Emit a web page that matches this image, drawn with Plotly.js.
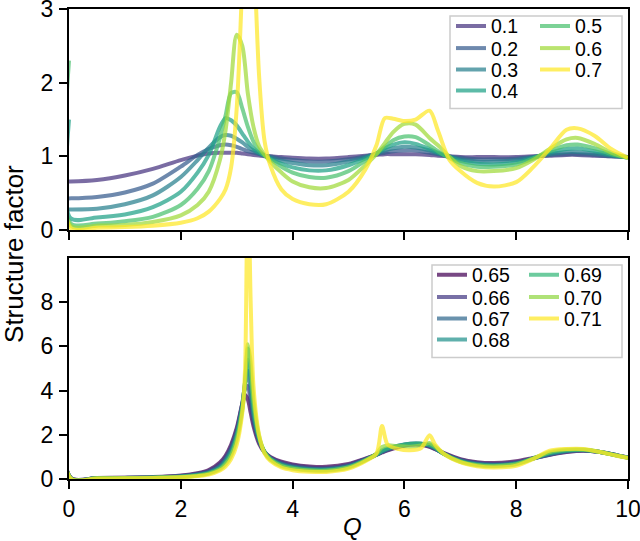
<!DOCTYPE html>
<html><head><meta charset="utf-8">
<script src="https://cdn.plot.ly/plotly-3.0.1.min.js"></script>
<style>body{margin:0;background:#fff}</style>
</head><body><div id="chart" style="width:640px;height:541px"></div>
<script>
// ---------- data ----------
const qTop = [0, 0.03, 0.5, 1.0, 1.5, 2.0, 2.3, 2.5, 2.7, 2.8, 2.9, 3.0, 3.1, 3.2, 3.3, 3.4, 3.5, 3.6, 3.8, 4.0, 4.3, 4.6, 5.0, 5.3, 5.5, 5.65, 5.8, 6.0, 6.2, 6.45, 6.6, 6.8, 7.0, 7.3, 7.6, 8.0, 8.3, 8.6, 8.9, 9.1, 9.4, 9.7, 10];
const topLabels = ['0.1', '0.2', '0.3', '0.4', '0.5', '0.6', '0.7'];
const sTop_01 = [0.66, 0.66, 0.68, 0.74, 0.83, 0.95, 1.01, 1.04, 1.05, 1.05, 1.05, 1.05, 1.04, 1.03, 1.02, 1.01, 1.0, 1.0, 0.99, 0.98, 0.97, 0.97, 0.99, 1.01, 1.02, 1.03, 1.03, 1.03, 1.03, 1.02, 1.01, 1.0, 0.99, 0.99, 0.99, 0.99, 1.0, 1.01, 1.02, 1.02, 1.01, 1.0, 0.99];
const sTop_02 = [0.43, 0.43, 0.45, 0.51, 0.63, 0.86, 1.02, 1.1, 1.15, 1.16, 1.15, 1.13, 1.1, 1.07, 1.05, 1.03, 1.01, 1.0, 0.97, 0.95, 0.93, 0.93, 0.96, 1.0, 1.03, 1.05, 1.07, 1.08, 1.08, 1.05, 1.03, 1.0, 0.98, 0.96, 0.96, 0.97, 0.99, 1.02, 1.03, 1.03, 1.02, 1.0, 0.99];
const sTop_03 = [0.28, 0.28, 0.29, 0.35, 0.47, 0.72, 0.95, 1.12, 1.26, 1.29, 1.28, 1.24, 1.19, 1.13, 1.08, 1.04, 1.01, 0.99, 0.94, 0.91, 0.88, 0.88, 0.93, 0.99, 1.04, 1.08, 1.11, 1.13, 1.12, 1.08, 1.04, 1.0, 0.96, 0.93, 0.93, 0.95, 0.99, 1.03, 1.06, 1.06, 1.04, 1.01, 0.99];
const sTop_04 = [1.5, 0.16, 0.17, 0.21, 0.31, 0.52, 0.78, 1.02, 1.4, 1.52, 1.49, 1.42, 1.31, 1.2, 1.11, 1.05, 1.01, 0.97, 0.9, 0.85, 0.81, 0.81, 0.88, 0.97, 1.04, 1.11, 1.16, 1.19, 1.17, 1.1, 1.05, 0.99, 0.94, 0.9, 0.89, 0.92, 0.98, 1.05, 1.1, 1.11, 1.07, 1.02, 0.98];
const sTop_05 = [2.3, 0.09, 0.09, 0.12, 0.18, 0.34, 0.56, 0.8, 1.25, 1.55, 1.86, 1.87, 1.65, 1.4, 1.2, 1.08, 1.01, 0.96, 0.86, 0.78, 0.72, 0.71, 0.8, 0.94, 1.04, 1.13, 1.22, 1.27, 1.26, 1.15, 1.07, 0.98, 0.91, 0.86, 0.86, 0.89, 0.97, 1.07, 1.15, 1.16, 1.11, 1.03, 0.98];
const sTop_06 = [4.0, 0.06, 0.06, 0.07, 0.11, 0.2, 0.34, 0.52, 0.95, 1.35, 2.0, 2.65, 2.5, 1.85, 1.4, 1.14, 1.02, 0.93, 0.78, 0.66, 0.58, 0.57, 0.68, 0.88, 1.03, 1.18, 1.33, 1.44, 1.43, 1.25, 1.15, 1.0, 0.87, 0.8, 0.8, 0.84, 0.95, 1.1, 1.23, 1.25, 1.17, 1.05, 0.98];
const sTop_07 = [4.0, 0.03, 0.03, 0.04, 0.06, 0.1, 0.16, 0.25, 0.42, 0.55, 0.85, 1.65, 3.4, 6.0, 4.0, 2.1, 1.2, 0.88, 0.55, 0.42, 0.35, 0.35, 0.52, 0.82, 1.15, 1.52, 1.51, 1.48, 1.5, 1.62, 1.35, 0.96, 0.8, 0.64, 0.59, 0.65, 0.85, 1.1, 1.36, 1.38, 1.28, 1.1, 0.98];

const qBot = [0, 0.03, 0.5, 1.0, 1.5, 2.0, 2.3, 2.5, 2.7, 2.8, 2.9, 3.0, 3.1, 3.15, 3.2, 3.25, 3.3, 3.4, 3.5, 3.6, 3.8, 4.0, 4.3, 4.6, 5.0, 5.3, 5.5, 5.6, 5.7, 5.9, 6.1, 6.3, 6.45, 6.55, 6.7, 7.0, 7.3, 7.6, 8.0, 8.3, 8.6, 8.9, 9.2, 9.5, 9.8, 10];
const botLabels = ['0.65', '0.66', '0.67', '0.68', '0.69', '0.70', '0.71'];
const sBot_065 = [12, 0.06, 0.05, 0.06, 0.09, 0.16, 0.26, 0.4, 0.75, 1.05, 1.55, 2.3, 3.4, 3.8, 3.6, 3.0, 2.4, 1.6, 1.2, 1.0, 0.78, 0.66, 0.57, 0.55, 0.68, 0.92, 1.1, 1.2, 1.3, 1.45, 1.55, 1.55, 1.45, 1.35, 1.18, 0.9, 0.76, 0.72, 0.8, 0.95, 1.1, 1.22, 1.28, 1.22, 1.08, 0.97];
const sBot_066 = [12, 0.05, 0.045, 0.055, 0.08, 0.14, 0.24, 0.36, 0.68, 0.98, 1.45, 2.2, 3.4, 4.1, 4.2, 3.4, 2.6, 1.7, 1.22, 0.98, 0.74, 0.62, 0.52, 0.5, 0.64, 0.9, 1.1, 1.22, 1.32, 1.47, 1.57, 1.57, 1.48, 1.36, 1.16, 0.87, 0.73, 0.68, 0.76, 0.93, 1.1, 1.24, 1.29, 1.22, 1.08, 0.97];
const sBot_067 = [12, 0.045, 0.04, 0.05, 0.07, 0.12, 0.21, 0.32, 0.6, 0.9, 1.35, 2.1, 3.4, 4.3, 4.9, 3.9, 2.8, 1.75, 1.22, 0.95, 0.7, 0.57, 0.48, 0.46, 0.6, 0.88, 1.1, 1.23, 1.34, 1.5, 1.59, 1.59, 1.5, 1.38, 1.15, 0.85, 0.7, 0.65, 0.73, 0.92, 1.12, 1.26, 1.3, 1.22, 1.07, 0.96];
const sBot_068 = [12, 0.04, 0.035, 0.045, 0.065, 0.11, 0.19, 0.29, 0.54, 0.82, 1.25, 2.0, 3.3, 4.4, 5.4, 4.4, 3.0, 1.8, 1.22, 0.92, 0.66, 0.53, 0.44, 0.43, 0.57, 0.86, 1.1, 1.25, 1.36, 1.52, 1.6, 1.6, 1.52, 1.4, 1.14, 0.82, 0.67, 0.62, 0.7, 0.92, 1.15, 1.28, 1.31, 1.22, 1.07, 0.96];
const sBot_069 = [12, 0.035, 0.03, 0.04, 0.06, 0.1, 0.17, 0.26, 0.48, 0.74, 1.15, 1.9, 3.2, 4.4, 5.9, 4.9, 3.3, 1.85, 1.2, 0.9, 0.62, 0.5, 0.41, 0.4, 0.54, 0.85, 1.12, 1.3, 1.4, 1.5, 1.58, 1.6, 1.56, 1.42, 1.14, 0.8, 0.64, 0.6, 0.68, 0.93, 1.18, 1.3, 1.32, 1.22, 1.06, 0.96];
const sBot_070 = [12, 0.03, 0.03, 0.035, 0.055, 0.09, 0.15, 0.24, 0.44, 0.66, 1.05, 1.75, 3.1, 4.3, 6.1, 5.3, 3.6, 1.95, 1.2, 0.88, 0.58, 0.46, 0.38, 0.37, 0.52, 0.84, 1.15, 1.45, 1.52, 1.48, 1.46, 1.52, 1.63, 1.48, 1.15, 0.78, 0.62, 0.58, 0.66, 0.92, 1.22, 1.33, 1.33, 1.22, 1.06, 0.96];
const sBot_071 = [12, 0.03, 0.025, 0.03, 0.05, 0.08, 0.13, 0.2, 0.38, 0.56, 0.9, 1.55, 3.0, 5.0, 14, 8, 4.2, 2.0, 1.15, 0.82, 0.52, 0.4, 0.33, 0.32, 0.47, 0.8, 1.15, 2.4, 1.55, 1.35, 1.3, 1.4, 1.98, 1.55, 1.15, 0.76, 0.58, 0.52, 0.6, 0.9, 1.28, 1.36, 1.36, 1.22, 1.05, 0.95];

const topColors = ['#46337f', '#365c8d', '#277f8e', '#1fa187', '#4ac16d', '#a0da39', '#fde725'];
const botColors = ['#440154', '#443983', '#31688e', '#21918c', '#35b779', '#90d743', '#fde725'];
const yTopTicks = [0, 1, 2, 3];
const yBotTicks = [0, 2, 4, 6, 8];
const xTicks = [0, 2, 4, 6, 8, 10];

// ---------- layout helpers ----------
const W = 640, H = 541;
const M = {l: 69, r: 12, t: 7, b: 62};
const PW = W - M.l - M.r, PH = H - M.t - M.b;
const px = x => (x - M.l) / PW;           // pixel -> paper x
const py = y => (H - M.b - y) / PH;       // pixel -> paper y
const FONT = 'Arial, "Liberation Sans", sans-serif';

const topSeries = [sTop_01, sTop_02, sTop_03, sTop_04, sTop_05, sTop_06, sTop_07];
const botSeries = [sBot_065, sBot_066, sBot_067, sBot_068, sBot_069, sBot_070, sBot_071];

// legend slots: two columns (4 + 3 rows) per panel, one single-entry legend each
const topColX = [451, 535], botColX = [432, 524];
const topRowY = [26.7, 49.0, 70.5, 91.7], botRowY = [276.7, 299.0, 320.5, 341.7];
const legendLayouts = {};
let legendCount = 0;
function newLegend(xPix, rowCenter) {
  const id = legendCount === 0 ? 'legend' : 'legend' + (legendCount + 1);
  legendCount++;
  legendLayouts[id] = {x: px(xPix), y: py(rowCenter - 22), xanchor: 'left', yanchor: 'top',
    bgcolor: 'rgba(0,0,0,0)', borderwidth: 0,
    font: {family: FONT, size: 19.5, color: '#000'}};
  return id;
}

const traces = [];
topSeries.forEach((s, i) => {
  const col = i < 4 ? 0 : 1, row = i < 4 ? i : i - 4;
  traces.push({
    x: qTop, y: s, type: 'scatter', mode: 'lines', name: topLabels[i],
    xaxis: 'x', yaxis: 'y', opacity: 0.72,
    line: {color: topColors[i], width: 4, shape: 'spline', smoothing: 0.8},
    legend: newLegend(topColX[col], topRowY[row]), hoverinfo: 'skip'
  });
});
botSeries.forEach((s, i) => {
  const col = i < 4 ? 0 : 1, row = i < 4 ? i : i - 4;
  traces.push({
    x: qBot, y: s, type: 'scatter', mode: 'lines', name: botLabels[i],
    xaxis: 'x2', yaxis: 'y2', opacity: 0.72,
    line: {color: botColors[i], width: 4, shape: 'spline', smoothing: 0.8},
    legend: newLegend(botColX[col], botRowY[row]), hoverinfo: 'skip'
  });
});

const axisCommon = {
  showline: true, linecolor: '#000', linewidth: 2, mirror: true,
  ticks: 'outside', ticklen: 8, tickwidth: 2, tickcolor: '#000',
  showgrid: false, zeroline: false, ticklabeloverflow: 'allow',
  tickfont: {family: FONT, size: 23, color: '#000'}
};

const layout = Object.assign({
  width: W, height: H, margin: M,
  paper_bgcolor: '#fff', plot_bgcolor: '#fff',
  showlegend: true,
  xaxis: Object.assign({}, axisCommon, {domain: [0, 1], range: [0, 10], tickvals: xTicks, showticklabels: false, anchor: 'y'}),
  yaxis: Object.assign({}, axisCommon, {domain: [py(229), 1], range: [0, 3], tickvals: yTopTicks, anchor: 'x', ticklabelstandoff: 1}),
  xaxis2: Object.assign({}, axisCommon, {domain: [0, 1], range: [0, 10], tickvals: xTicks, anchor: 'y2', ticklabelstandoff: 0}),
  yaxis2: Object.assign({}, axisCommon, {domain: [0, py(257)], range: [0, 10], tickvals: yBotTicks, anchor: 'x2', ticklabelstandoff: 1}),
  shapes: [
    {type: 'rect', xref: 'paper', yref: 'paper', x0: px(450), x1: px(622), y0: py(107), y1: py(14),
     line: {color: '#cccccc', width: 1.5}, fillcolor: 'rgba(255,255,255,0.8)', layer: 'above'},
    {type: 'rect', xref: 'paper', yref: 'paper', x0: px(432), x1: px(622), y0: py(357), y1: py(264),
     line: {color: '#cccccc', width: 1.5}, fillcolor: 'rgba(255,255,255,0.8)', layer: 'above'}
  ],
  annotations: [
    {text: 'Structure factor', xref: 'paper', yref: 'paper', x: px(14), y: py(253),
     xanchor: 'center', yanchor: 'middle', textangle: -90, showarrow: false,
     font: {family: FONT, size: 26, color: '#000'}},
    {text: '<i>Q</i>', xref: 'paper', yref: 'paper', x: px(352), y: py(527),
     xanchor: 'center', yanchor: 'middle', showarrow: false,
     font: {family: FONT, size: 24, color: '#000'}}
  ]
}, legendLayouts);

Plotly.newPlot('chart', traces, layout, {staticPlot: true, displayModeBar: false});
</script>
</body></html>
